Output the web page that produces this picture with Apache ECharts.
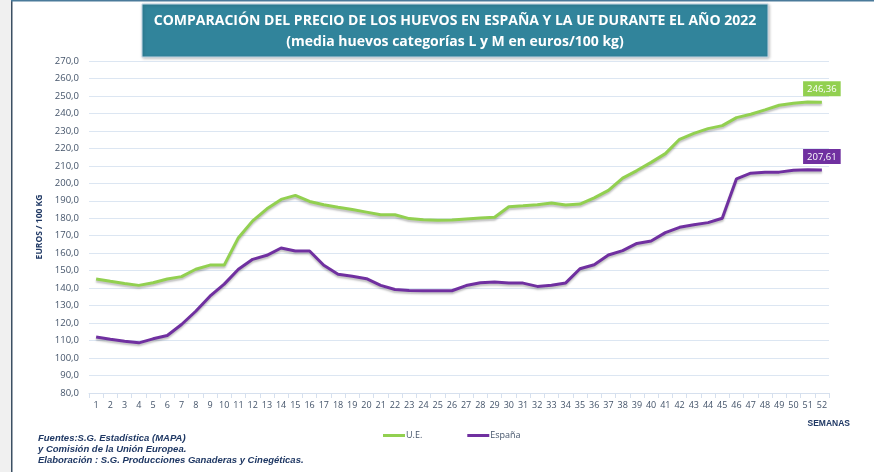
<!DOCTYPE html>
<html>
<head>
<meta charset="utf-8">
<script src="https://cdn.jsdelivr.net/npm/echarts@6/dist/echarts.min.js"></script>
<style>
  html, body { margin: 0; padding: 0; background: #fff; }
  #chart { width: 874px; height: 472px; }
</style>
</head>
<body>
<div id="chart"></div>
<script>
// semanas del año 2022
const semanas = [];
for (let i = 1; i <= 52; i++) semanas.push(String(i));

// precio medio huevos L y M, euros/100 kg
const ue = [
  145.2, 143.9, 142.7, 141.6, 143.1, 145.2, 146.6, 150.8, 153.2, 153.2,
  168.9, 178.5, 185.4, 190.8, 193.1, 189.6, 187.7, 186.3, 185.0, 183.5,
  182.0, 182.0, 179.8, 179.2, 178.9, 179.0, 179.6, 180.2, 180.6, 186.6,
  187.1, 187.7, 188.7, 187.6, 188.1, 191.7, 196.0, 203.0, 207.3, 212.0,
  217.0, 225.2, 228.6, 231.3, 233.0, 237.6, 239.5, 242.0, 244.7, 245.8,
  246.6, 246.36
];
const espana = [
  112.1, 110.8, 109.6, 108.7, 111.0, 112.9, 119.2, 126.8, 135.4, 142.3,
  150.8, 156.5, 158.8, 163.0, 161.3, 161.3, 153.1, 148.0, 146.8, 145.4,
  141.6, 139.2, 138.7, 138.5, 138.5, 138.5, 141.5, 143.1, 143.5, 142.9,
  142.9, 141.0, 141.7, 143.0, 151.1, 153.4, 159.0, 161.5, 165.6, 167.0,
  171.8, 174.8, 176.3, 177.5, 180.0, 202.6, 205.8, 206.4, 206.4, 207.5,
  207.7, 207.61
];

const verde = '#92d050';
const morado = '#7030a0';
const azulTexto = '#44546a';

const fmt = v => v.toFixed(2).replace('.', ',');

// etiqueta solo en el último punto
function conEtiqueta(arr, color) {
  return arr.map((v, i) => {
    if (i !== arr.length - 1) return v;
    return {
      value: v,
      label: {
        show: true,
        position: 'top',
        distance: 6,
        formatter: p => fmt(p.value),
        backgroundColor: color,
        color: '#fff',
        fontFamily: 'Open Sans',
        fontSize: 9.5,
        padding: [3, 4, 2, 4]
      }
    };
  });
}

const chart = echarts.init(document.getElementById('chart'));

const option = {
  backgroundColor: '#fff',
  animation: false,
  textStyle: { fontFamily: 'Open Sans' },
  grid: { left: 89, right: 45, top: 61, bottom: 79 },
  graphic: [
    { type: 'rect', shape: { x: 0, y: 0, width: 11, height: 472 }, style: { fill: '#f0f0f0' } },
    { type: 'rect', shape: { x: 11, y: 0, width: 1.5, height: 472 }, style: { fill: '#3b4f63' } },
    { type: 'rect', shape: { x: 11, y: 0, width: 863, height: 1.5 }, style: { fill: '#4a7a9a' } },
    {
      type: 'rect',
      shape: { x: 142, y: 4, width: 626, height: 53 },
      style: { fill: '#31849b', stroke: '#c5d9e8', lineWidth: 1, shadowBlur: 3, shadowColor: 'rgba(0,0,0,0.25)', shadowOffsetX: 1, shadowOffsetY: 1 }
    },
    {
      type: 'text', x: 455, y: 21,
      style: {
        text: 'COMPARACIÓN DEL PRECIO DE LOS HUEVOS EN ESPAÑA Y LA UE DURANTE EL AÑO 2022',
        fill: '#fff', font: 'bold 14px "Open Sans"', align: 'center', verticalAlign: 'middle'
      }
    },
    {
      type: 'text', x: 455, y: 42,
      style: {
        text: '(media huevos categorías L y M en euros/100 kg)',
        fill: '#fff', font: 'bold 14px "Open Sans"', align: 'center', verticalAlign: 'middle'
      }
    },
    {
      type: 'text', x: 850, y: 424,
      style: { text: 'SEMANAS', fill: '#1f3864', font: 'bold 8.5px "Liberation Sans"', align: 'right', verticalAlign: 'middle' }
    },
    {
      type: 'text', x: 38, y: 433,
      style: {
        text: 'Fuentes:S.G. Estadística (MAPA)\ny Comisión de la Unión Europea.\nElaboración : S.G. Producciones Ganaderas y Cinegéticas.',
        fill: '#1f3864', font: 'italic bold 9.5px "Liberation Sans"', lineHeight: 11, verticalAlign: 'top'
      }
    }
  ],
  legend: {
    left: 378, top: 426,
    itemGap: 45,
    itemWidth: 22, itemHeight: 3,
    icon: 'rect',
    textStyle: { color: azulTexto, fontSize: 9, padding: [0, 0, 0, -4] },
    data: ['U.E.', 'España']
  },
  xAxis: {
    type: 'category',
    data: semanas,
    boundaryGap: true,
    axisLine: { lineStyle: { color: '#d6e0ee' } },
    axisTick: { show: true, lineStyle: { color: '#d6e0ee' } },
    axisLabel: { interval: 0, color: azulTexto, fontSize: 9, margin: 8 }
  },
  yAxis: {
    type: 'value',
    min: 80, max: 270, interval: 10,
    name: 'EUROS / 100 KG',
    nameLocation: 'middle',
    nameGap: 42,
    nameRotate: 90,
    nameTextStyle: { color: '#1f3864', fontWeight: 'bold', fontSize: 8.5 },
    axisLine: { show: false },
    axisTick: { show: false },
    axisLabel: { color: azulTexto, fontSize: 9.5, margin: 10, formatter: v => v.toFixed(1).replace('.', ',') },
    splitLine: { lineStyle: { color: '#dce6f2', width: 1 } }
  },
  series: [
    {
      name: 'U.E.', type: 'line', data: conEtiqueta(ue, verde),
      symbol: 'circle', symbolSize: 0, showSymbol: true, color: verde,
      lineStyle: { width: 3, color: verde, shadowColor: 'rgba(0,0,0,0.25)', shadowBlur: 2, shadowOffsetY: 2 }
    },
    {
      name: 'España', type: 'line', data: conEtiqueta(espana, morado),
      symbol: 'circle', symbolSize: 0, showSymbol: true, color: morado,
      lineStyle: { width: 3, color: morado, shadowColor: 'rgba(0,0,0,0.25)', shadowBlur: 2, shadowOffsetY: 2 }
    }
  ]
};

chart.setOption(option);
</script>
</body>
</html>
